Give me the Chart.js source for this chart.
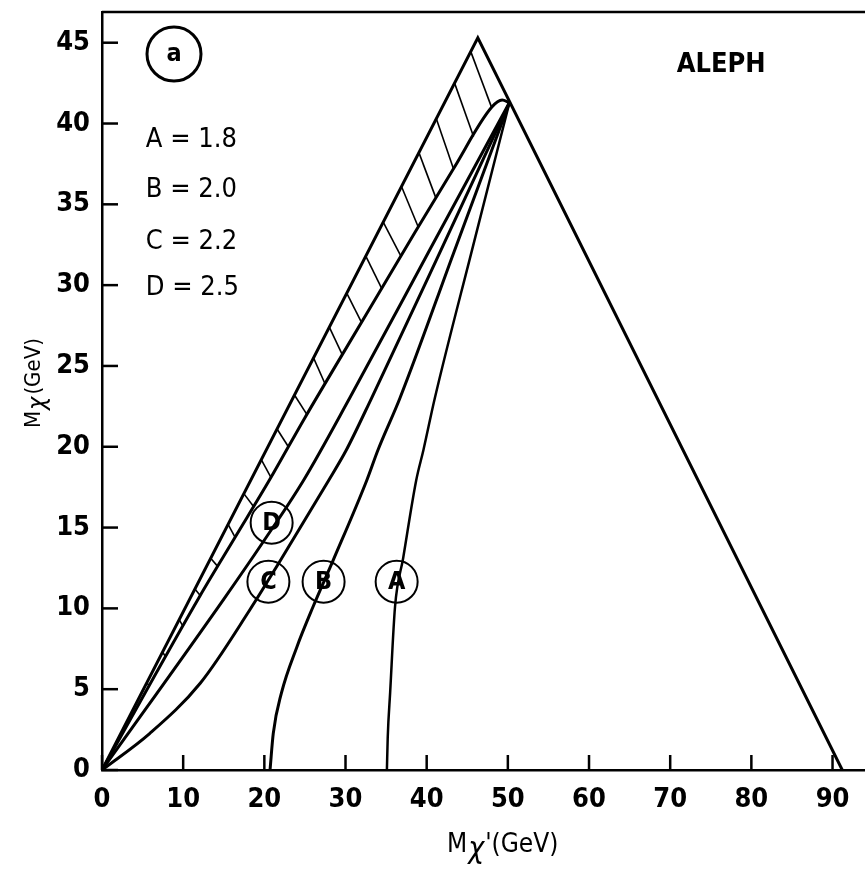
<!DOCTYPE html>
<html>
<head>
<meta charset="utf-8">
<script src="https://cdn.jsdelivr.net/npm/chart.js@4.4.1/dist/chart.umd.min.js"></script>
<style>
  body { margin: 0; background: #fff; }
  #wrap { width: 865px; height: 869px; }
</style>
</head>
<body>
<div id="wrap"><canvas id="myChart"></canvas></div>
<script>
// tick labels
const xTicks = [0, 10, 20, 30, 40, 50, 60, 70, 80, 90];
const yTicks = [0, 5, 10, 15, 20, 25, 30, 35, 40, 45];

// outer kinematic triangle
const outerX = [0, 46.3, 91.2];
const outerY = [0, 45.3, 0];

// lower edge of hatched band
const bandX = [0, 12.1, 16.4, 20.7, 25.0, 29.6, 34.1, 38.6, 43.3, 48.0, 49.3, 50.2];
const bandY = [0, 10.8, 14.4, 18.0, 21.8, 25.7, 29.5, 33.3, 37.2, 41.0, 41.45, 41.3];

// curves A-D
const curveAX = [35.1, 35.2, 35.5, 36.1, 37.1, 38.7, 39.6, 41.0, 45.6, 50.2];
const curveAY = [0, 2.0, 4.8, 10.1, 13.1, 17.9, 19.8, 23.0, 32.2, 41.3];
const curveBX = [20.7, 21.1, 22.1, 24.0, 26.0, 28.5, 32.6, 34.0, 36.7, 43.4, 50.2];
const curveBY = [0, 2.27, 4.75, 7.6, 10.1, 13.0, 17.9, 19.8, 23.0, 32.1, 41.3];
const curveCX = [0, 5.9, 12.1, 18.2, 21.9, 27.9, 30.1, 33.2, 41.7, 50.2];
const curveCY = [0, 2.27, 5.37, 9.9, 12.9, 17.9, 19.8, 23.0, 32.1, 41.3];
const curveDX = [0, 14.9, 19.7, 24.8, 30.5, 40.5, 50.2];
const curveDY = [0, 10.5, 14.0, 17.9, 23.0, 32.3, 41.3];

// hatch marks: top end on the outer line, bottom end on the band edge
const hatchTopY = [44.45, 42.5, 40.3, 38.2, 36.1, 33.9, 31.8, 29.5, 27.4, 25.5, 23.2, 21.1, 19.2, 17.1, 15.2, 13.1, 11.2, 9.3, 7.3, 5.4];
const hatchBotY = [41.0, 39.2, 37.2, 35.4, 33.6, 31.8, 29.8, 27.7, 25.7, 23.9, 22.0, 20.0, 18.1, 16.3, 14.4, 12.6, 10.8, 8.9, 7.0, 5.2];

// circled curve labels
const labelNames = ["A", "B", "C", "D"];
const labelX = [36.3, 27.3, 20.5, 20.9];
const labelY = [11.65, 11.65, 11.65, 15.3];

// legend text
const legendText = ["A = 1.8", "B = 2.0", "C = 2.2", "D = 2.5"];
const legendY = [39.0, 35.9, 32.7, 29.8];

const FONT = '"DejaVu Sans Condensed", "Liberation Sans Narrow", sans-serif';

function pts(xs, ys) {
  return xs.map((v, i) => ({ x: v, y: ys[i] }));
}

function xOnLine(xs, ys, yv) {
  for (let i = 0; i < ys.length - 1; i++) {
    const y0 = ys[i], y1 = ys[i + 1];
    if ((yv - y0) * (yv - y1) <= 0 && y1 !== y0) {
      return xs[i] + (xs[i + 1] - xs[i]) * (yv - y0) / (y1 - y0);
    }
  }
  return xs[xs.length - 1];
}

function lineSet(data, width, smooth) {
  return {
    data: data,
    borderColor: "#000",
    borderWidth: width,
    pointRadius: 0,
    cubicInterpolationMode: smooth ? "monotone" : "default",
    tension: 0,
    fill: false,
  };
}

const datasets = [];
datasets.push(lineSet(pts(outerX, outerY), 3, false));
datasets.push(lineSet(pts(bandX, bandY), 3, true));
datasets.push(lineSet(pts(curveAX, curveAY), 2.5, true));
datasets.push(lineSet(pts(curveBX, curveBY), 3, true));
datasets.push(lineSet(pts(curveCX, curveCY), 3, true));
datasets.push(lineSet(pts(curveDX, curveDY), 3, true));

// hatch segments
const slope = outerY[1] / outerX[1];
hatchTopY.forEach((ty, i) => {
  const by = hatchBotY[i];
  datasets.push(lineSet([
    { x: ty / slope, y: ty },
    { x: xOnLine(bandX.slice(0, 10), bandY.slice(0, 10), by), y: by },
  ], 1.6, false));
});

// circles for labels
datasets.push({
  data: pts(labelX, labelY),
  showLine: false,
  pointRadius: 21,
  pointHoverRadius: 21,
  pointBackgroundColor: "#fff",
  pointBorderColor: "#000",
  pointBorderWidth: 2,
});
datasets.push({
  data: [{ x: 8.87, y: 44.3 }],
  showLine: false,
  pointRadius: 27,
  pointHoverRadius: 27,
  pointBackgroundColor: "#fff",
  pointBorderColor: "#000",
  pointBorderWidth: 3,
});

const overlay = {
  id: "overlay",
  afterDatasetsDraw(chart) {
    const { ctx, chartArea, scales } = chart;
    const x = scales.x, y = scales.y;
    ctx.save();
    ctx.strokeStyle = "#000";
    ctx.fillStyle = "#000";

    // top frame line
    ctx.lineWidth = 2.5;
    ctx.beginPath();
    ctx.moveTo(chartArea.left, chartArea.top);
    ctx.lineTo(chartArea.right, chartArea.top);
    ctx.stroke();

    // inward ticks
    xTicks.forEach((v) => {
      const px = x.getPixelForValue(v);
      ctx.beginPath();
      ctx.moveTo(px, chartArea.bottom);
      ctx.lineTo(px, chartArea.bottom - 15);
      ctx.stroke();
    });
    yTicks.forEach((v) => {
      const py = y.getPixelForValue(v);
      ctx.beginPath();
      ctx.moveTo(chartArea.left, py);
      ctx.lineTo(chartArea.left + 16, py);
      ctx.stroke();
    });

    // circled letters
    ctx.textAlign = "center";
    ctx.textBaseline = "middle";
    ctx.font = "bold 25px " + FONT;
    labelNames.forEach((n, i) => {
      ctx.fillText(n, x.getPixelForValue(labelX[i]), y.getPixelForValue(labelY[i]) + 1);
    });
    ctx.fillText("a", x.getPixelForValue(8.87), y.getPixelForValue(44.3));

    // legend text
    ctx.textAlign = "left";
    ctx.font = "27px " + FONT;
    legendText.forEach((t, i) => {
      ctx.fillText(t, x.getPixelForValue(5.4), y.getPixelForValue(legendY[i]));
    });
    ctx.font = "bold 27px " + FONT;
    ctx.fillText("ALEPH", x.getPixelForValue(70.8), y.getPixelForValue(43.6));

    // x axis title
    ctx.textBaseline = "alphabetic";
    ctx.font = "26px " + FONT;
    let tx = 447;
    const ty = 852;
    ctx.fillText("M", tx, ty);
    tx += ctx.measureText("M").width + 1;
    ctx.font = "italic 30px " + FONT;
    ctx.fillText("\u03C7", tx, ty + 6);
    tx += ctx.measureText("\u03C7").width + 1;
    ctx.font = "26px " + FONT;
    ctx.fillText("'(GeV)", tx, ty);

    // y axis title
    ctx.translate(40, 428);
    ctx.rotate(-Math.PI / 2);
    ctx.font = "22px " + FONT;
    let sx = 0;
    ctx.fillText("M", sx, 0);
    sx += ctx.measureText("M").width + 1;
    ctx.font = "italic 25px " + FONT;
    ctx.fillText("\u03C7", sx, 5);
    sx += ctx.measureText("\u03C7").width + 2;
    ctx.font = "22px " + FONT;
    ctx.fillText("(GeV)", sx, 0);
    ctx.restore();
  },
};

const config = {
  type: "line",
  data: { datasets: datasets },
  options: {
    responsive: true,
    maintainAspectRatio: false,
    animation: false,
    layout: { autoPadding: false, padding: { top: 12, right: 0, left: 0, bottom: 0 } },
    plugins: {
      legend: { display: false },
      tooltip: { enabled: false },
    },
    scales: {
      x: {
        type: "linear",
        min: 0,
        max: 94,
        afterBuildTicks: (s) => { s.ticks = xTicks.map((v) => ({ value: v })); },
        afterFit: (s) => { s.height = 99; s.paddingLeft = 0; s.paddingRight = 0; },
        grid: { display: false, drawTicks: false },
        border: { display: true, color: "#000", width: 2.5 },
        ticks: {
          color: "#000",
          padding: 14,
          maxRotation: 0,
          font: { family: FONT, size: 27, weight: "bold" },
        },
      },
      y: {
        type: "linear",
        min: 0,
        max: 46.9,
        afterBuildTicks: (s) => { s.ticks = yTicks.map((v) => ({ value: v })); },
        afterFit: (s) => { s.width = 102; s.paddingTop = 0; s.paddingBottom = 0; },
        grid: { display: false, drawTicks: false },
        border: { display: true, color: "#000", width: 2.5 },
        ticks: {
          color: "#000",
          padding: 12,
          font: { family: FONT, size: 27, weight: "bold" },
        },
      },
    },
  },
  plugins: [overlay],
};

new Chart(document.getElementById("myChart"), config);
</script>
</body>
</html>
